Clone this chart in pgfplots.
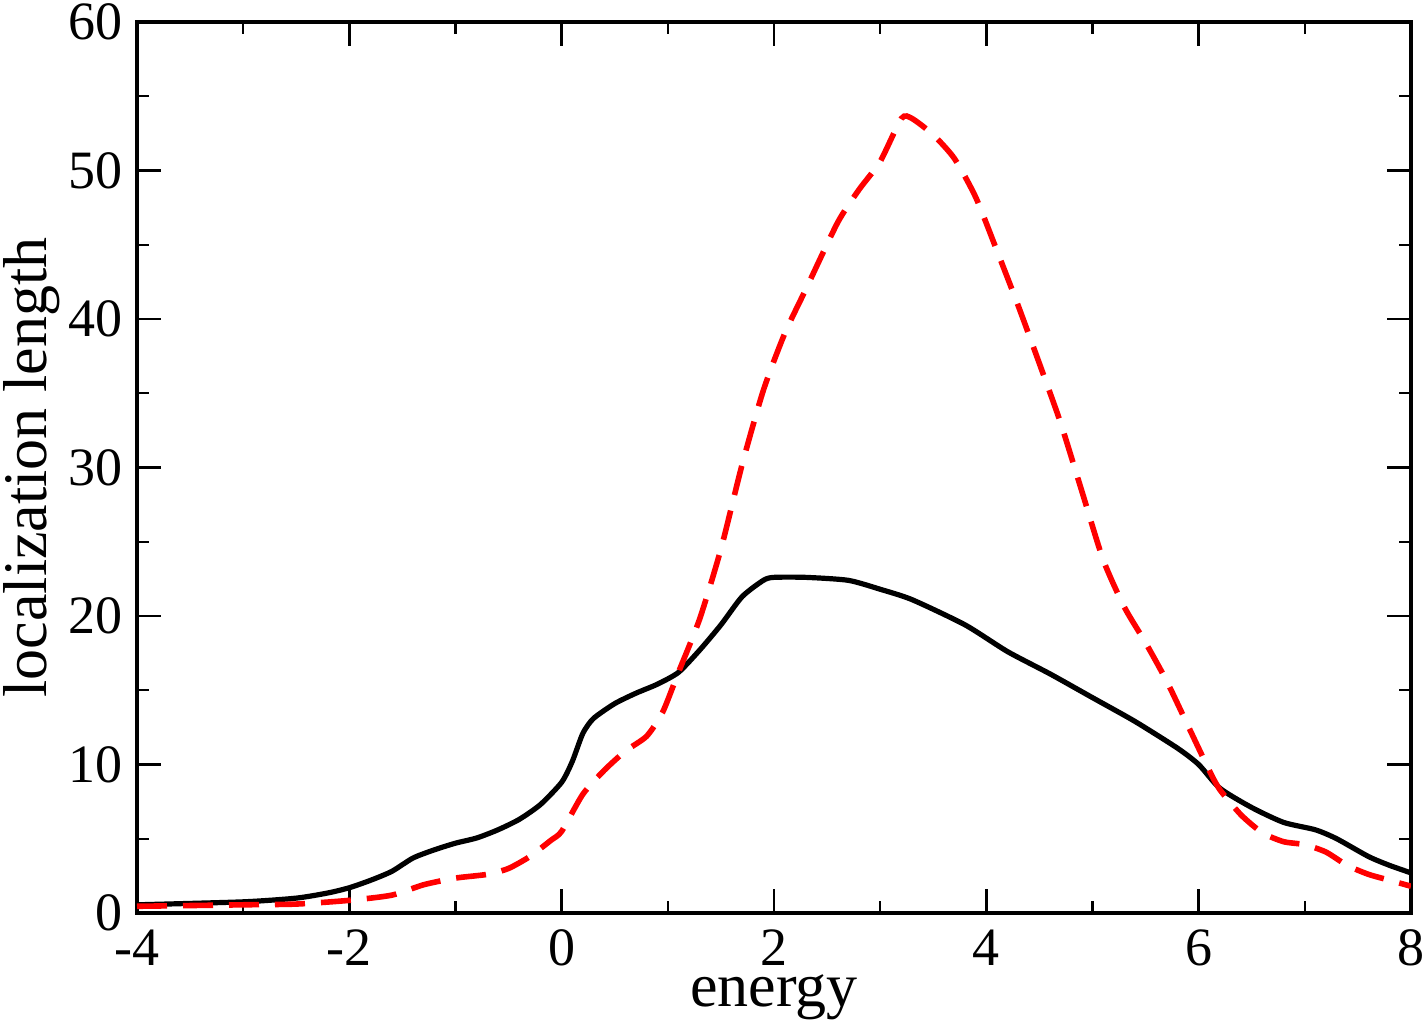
\documentclass[border=0pt]{standalone}
\usepackage{fontspec}
\setmainfont{Liberation Serif}
\usepackage{pgfplots}
\pgfplotsset{compat=1.18}
\begin{document}
\begin{tikzpicture}
\useasboundingbox (-34.25pt,-27.5pt) rectangle (322.75pt,228.25pt);
\begin{axis}[
  at={(0pt,0pt)}, anchor=south west,
  scale only axis,
  width=318.5pt, height=222.75pt,
  xmin=-4, xmax=8, ymin=0, ymax=60,
  xtick={-4,-2,...,8}, ytick={0,10,...,60},
  minor xtick={-3,-1,...,7}, minor ytick={5,15,...,55},
  tick align=inside,
  major tick length=6pt, minor tick length=3pt,
  every tick/.style={black, line width=0.6pt},
  axis line style={line width=0.8pt},
  tick label style={font=\fontsize{13.5}{15}\selectfont},
  /pgf/number format/assume math mode=true,
  xticklabel style={anchor=north, yshift=-0.6pt},
  yticklabel style={anchor=east, xshift=-0.2pt},
  label style={font=\fontsize{15.5}{18}\selectfont},
  xlabel={energy}, ylabel={localization length},
  xlabel style={at={(axis description cs:0.5,0)}, anchor=base, yshift=-23.4pt},
  ylabel style={at={(axis description cs:0,0.5)}, rotate=0, anchor=base, yshift=22.6pt},
]
\addplot[black, line width=1.3pt, smooth, tension=0.4] coordinates {
(-4,0.55) (-3,0.75) (-2.5,1.0) (-2.2,1.35) (-2,1.7) (-1.8,2.2) (-1.6,2.8) (-1.4,3.7)
(-1.2,4.25) (-1,4.7) (-0.8,5.05) (-0.6,5.6) (-0.4,6.3) (-0.2,7.3) (0,8.8) (0.1,10.2)
(0.2,12.1) (0.3,13.1) (0.5,14.1) (0.7,14.8) (0.9,15.4) (1.1,16.2) (1.3,17.7) (1.5,19.4)
(1.7,21.3) (1.9,22.4) (2.0,22.6) (2.3,22.6) (2.7,22.4) (3.0,21.8) (3.3,21.1) (3.8,19.4)
(4.2,17.6) (4.6,16.1) (5.0,14.5) (5.4,12.9) (5.8,11.1) (6.0,10.0) (6.2,8.4) (6.5,7.1)
(6.8,6.1) (7.1,5.6) (7.3,5.0) (7.6,3.8) (7.8,3.2) (8,2.7)
};
\addplot[red, line width=1.4pt, dash pattern=on 7.5pt off 4pt, smooth, tension=0.4] coordinates {
(-4,0.45) (-3,0.55) (-2.5,0.6) (-2,0.85) (-1.6,1.2) (-1.3,1.9) (-1,2.35) (-0.7,2.6)
(-0.5,3.0) (-0.3,3.8) (-0.1,4.9) (0,5.5) (0.2,8.0) (0.4,9.6) (0.6,10.9) (0.8,11.9)
(0.95,13.5) (1.1,16.2) (1.3,19.8) (1.5,24.5) (1.7,30.2) (1.9,35.2) (2.1,39.0) (2.3,42.0)
(2.6,46.5) (2.8,48.7) (3.0,50.6) (3.2,53.5) (3.3,53.5) (3.5,52.4) (3.7,50.8) (3.9,48.2)
(4.1,44.6) (4.3,40.9) (4.5,37.0) (4.7,33.0) (4.9,28.4) (5.1,23.8) (5.3,20.6) (5.5,18.2)
(5.7,15.6) (5.9,12.6) (6.1,9.6) (6.2,8.3) (6.4,6.6) (6.6,5.4) (6.8,4.8) (7.0,4.6)
(7.2,4.1) (7.4,3.2) (7.6,2.6) (7.8,2.2) (8,1.8)
};
\end{axis}
\end{tikzpicture}
\end{document}
